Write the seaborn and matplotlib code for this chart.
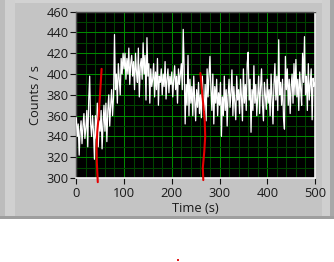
import numpy as np
import pandas as pd
import matplotlib
matplotlib.use("Agg")
import matplotlib.pyplot as plt
import seaborn as sns
from matplotlib.patches import Rectangle
from matplotlib.ticker import MultipleLocator

# ---------------- data ----------------
time_step = 2  # seconds between samples
counts = [
    358, 340, 352, 322, 345, 355, 333, 350, 362, 338,
    348, 365, 330, 375, 398, 352, 340, 360, 345, 318,
    360, 338, 372, 330, 355, 345, 365, 328, 352, 370,
    345, 372, 335, 365, 380, 350, 370, 385, 360, 378,
    438, 385, 400, 372, 410, 395, 380, 415, 400, 420,
    405, 420, 395, 415, 400, 425, 390, 410, 418, 398,
    412, 385, 420, 402, 392, 425, 378, 408, 415, 395,
    430, 400, 418, 375, 435, 398, 410, 372, 405, 388,
    395, 410, 378, 402, 385, 415, 370, 398, 392, 405,
    380, 400, 388, 412, 376, 395, 405, 382, 398, 390,
    402, 378, 395, 408, 385, 398, 372, 405, 390, 400,
    410, 385, 443, 405, 352, 390, 370, 418, 360, 395,
    372, 388, 360, 398, 375, 355, 385, 368, 392, 362,
    380, 358, 398, 372, 365, 390, 355, 405, 378, 400,
    417, 385, 365, 400, 352, 388, 372, 395, 360, 382,
    370, 392, 340, 378, 360, 398, 365, 385, 350, 380,
    395, 368, 382, 404, 360, 388, 372, 356, 398, 375,
    385, 362, 395, 378, 355, 405, 372, 390, 365, 410,
    421, 375, 395, 344, 385, 365, 408, 372, 390, 360,
    378, 398, 362, 388, 405, 370, 355, 392, 380, 366,
    395, 372, 385, 360, 400, 378, 352, 390, 410, 375,
    398, 365, 433, 380, 392, 370, 395, 358, 347, 417,
    385, 405, 370, 395, 362, 388, 400, 372, 410, 380,
    414, 378, 395, 365, 402, 385, 370, 420, 392, 436,
    380, 398, 365, 410, 375, 390, 405, 356, 396, 388, 392,
]
times = [i * time_step for i in range(len(counts))]

# red marker curves (x = time, y = counts)
red1_t = [53, 51, 49, 47, 44, 42.5, 43, 45]
red1_c = [405, 390, 375, 360, 345, 330, 315, 296]
red2_t = [260, 262, 264, 266.5, 269, 270, 268, 265, 266]
red2_c = [401, 390, 380, 368, 355, 340, 325, 310, 298]

x_ticks = [0, 100, 200, 300, 400, 500]
y_ticks = [300, 320, 340, 360, 380, 400, 420, 440, 460]
x_label = "Time (s)"
y_label = "Counts / s"

# ---------------- figure ----------------
W, H = 334, 262
sns.set_theme(style="dark")
plt.rcParams["font.family"] = ["Open Sans", "DejaVu Sans"]

fig = plt.figure(figsize=(W / 100, H / 100), dpi=100)
fig.patch.set_facecolor("white")

def px_rect(x0, y0, w, h, color):
    # rectangle in pixel coords measured from top-left
    fig.patches.append(Rectangle((x0 / W, 1 - (y0 + h) / H), w / W, h / H,
                                 transform=fig.transFigure, facecolor=color,
                                 edgecolor="none", zorder=-10))

# panel background with bevels
px_rect(0, 0, W, 219, "#c4c4c4")
px_rect(0, 0, W, 3, "#d2d2d2")
px_rect(0, 0, 5, 219, "#bcbcbc")
px_rect(5, 0, 10, 219, "#d0d0d0")
px_rect(322, 0, 8, 219, "#cfcfcf")
px_rect(330, 0, 4, 219, "#a8a8a8")
px_rect(0, 216, W, 3, "#9e9e9e")
px_rect(177, 259, 2, 2, "#e02020")

ax = fig.add_axes([76.3 / W, 1 - 178 / H, (315 - 76.3) / W, (178 - 11.7) / H])
ax.set_zorder(5)
ax.set_facecolor("black")

df = pd.DataFrame({"t": times, "c": counts})
sns.lineplot(data=df, x="t", y="c", ax=ax, color="white", linewidth=0.9,
             estimator=None, sort=False, zorder=3)

r1 = pd.DataFrame({"t": red1_t, "c": red1_c})
r2 = pd.DataFrame({"t": red2_t, "c": red2_c})
for r in (r1, r2):
    sns.lineplot(data=r, x="t", y="c", ax=ax, color="#e60000", linewidth=1.5,
                 estimator=None, sort=False, zorder=4, clip_on=False)

ax.set_xlim(0, 500)
ax.set_ylim(300, 460)
ax.set_xticks(x_ticks)
ax.set_yticks(y_ticks)
ax.xaxis.set_minor_locator(MultipleLocator(20))
ax.yaxis.set_minor_locator(MultipleLocator(10))
ax.grid(which="minor", color="#004400", linewidth=0.75, zorder=1)
ax.grid(which="major", color="#008a00", linewidth=0.75, zorder=2)
ax.set_axisbelow(True)

ax.tick_params(axis="both", which="major", length=4, width=0.8, color="#111111",
               labelsize=9.3, labelcolor="#1a1a1a", direction="out", pad=1.5,
               bottom=True, left=True)
ax.tick_params(axis="both", which="minor", length=0)
ax.tick_params(axis="x", pad=2.5)

ax.set_xlabel(x_label, fontsize=9.3, color="#1a1a1a", labelpad=1.5)
ax.set_ylabel(y_label, fontsize=9.3, color="#1a1a1a", labelpad=3)

for s in ("left", "top"):
    ax.spines[s].set_color("#505050")
    ax.spines[s].set_linewidth(1)
for s in ("right", "bottom"):
    ax.spines[s].set_color("#f4f4f4")
    ax.spines[s].set_linewidth(1.2)
for s in ax.spines.values():
    s.set_visible(True)

fig.savefig("out.png", dpi=100, facecolor=fig.get_facecolor())
